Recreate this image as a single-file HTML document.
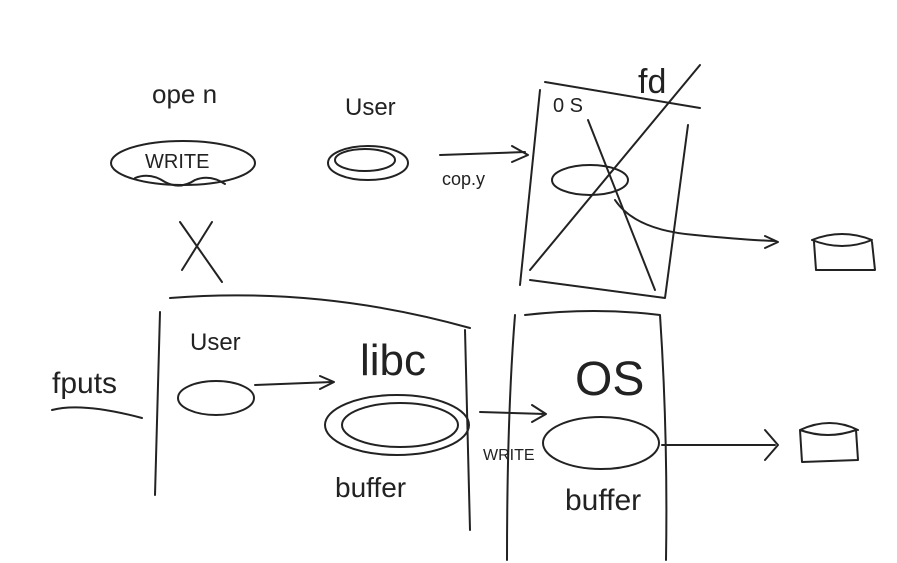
<!DOCTYPE html>
<html><head><meta charset="utf-8"><style>
html,body{margin:0;padding:0;background:#fff;}
svg{display:block}
text{font-family:"Liberation Sans",sans-serif;fill:#222;}
</style></head><body>
<svg width="897" height="563" viewBox="0 0 897 563" fill="none" stroke="#222" stroke-width="2" stroke-linecap="round" stroke-linejoin="round">
<g>
<text x="152" y="103" font-size="26" stroke="none">ope n</text>
<text x="345" y="115" font-size="24" stroke="none">User</text>
<ellipse cx="183" cy="163" rx="72" ry="22"/>
<text x="145" y="168" font-size="20" stroke="none">WRITE</text>
<path d="M135 178 q15 -6 30 4 q15 8 30 -2 q15 -6 30 4"/>
<path d="M180 222 L222 282 M212 222 L182 270"/>
<ellipse cx="368" cy="163" rx="40" ry="17"/>
<ellipse cx="365" cy="160" rx="30" ry="11"/>
<path d="M440 155 L525 152 M512 146 L528 155 L512 162"/>
<text x="442" y="185" font-size="18" stroke="none">cop.y</text>
<path d="M540 90 L520 285 M530 280 L665 298 M545 82 L700 108 M688 125 L665 298"/>
<text x="638" y="93" font-size="34" stroke="none">fd</text>
<text x="553" y="112" font-size="20" stroke="none">0 S</text>
<ellipse cx="590" cy="180" rx="38" ry="15"/>
<path d="M700 65 L530 270 M588 120 L655 290"/>
<path d="M615 200 q20 30 80 35 q50 5 80 6 M765 236 L778 242 L765 248"/>
<path d="M812 240 q30 -12 60 0 q-30 12 -60 0 M814 242 L816 270 L875 270 L872 242"/>
</g>
<g>
<path d="M170 298 q150 -12 300 30"/>
<text x="52" y="393" font-size="30" stroke="none">fputs</text>
<path d="M52 410 q30 -8 90 8"/>
<path d="M160 312 L155 495 M465 330 L470 530"/>
<text x="190" y="350" font-size="24" stroke="none">User</text>
<ellipse cx="216" cy="398" rx="38" ry="17"/>
<path d="M255 385 L332 382 M320 376 L334 382 L320 389"/>
<text x="360" y="375" font-size="44" stroke="none">libc</text>
<ellipse cx="397" cy="425" rx="72" ry="30"/>
<ellipse cx="400" cy="425" rx="58" ry="22"/>
<text x="335" y="497" font-size="28" stroke="none">buffer</text>
<path d="M480 412 L545 414 M532 405 L546 414 L532 422"/>
<text x="483" y="460" font-size="16" stroke="none">WRITE</text>
<path d="M515 315 q-8 100 -8 245 M525 315 q70 -8 135 0 q8 120 6 245"/>
<text x="575" y="395" font-size="48" stroke="none">OS</text>
<ellipse cx="601" cy="443" rx="58" ry="26"/>
<text x="565" y="510" font-size="30" stroke="none">buffer</text>
<path d="M662 445 L775 445 M765 430 L778 445 L765 460"/>
<path d="M800 430 q30 -14 58 0 M800 430 L802 462 L858 460 L856 430 q-28 10 -56 0"/>
</g>
</svg>
</body></html>
